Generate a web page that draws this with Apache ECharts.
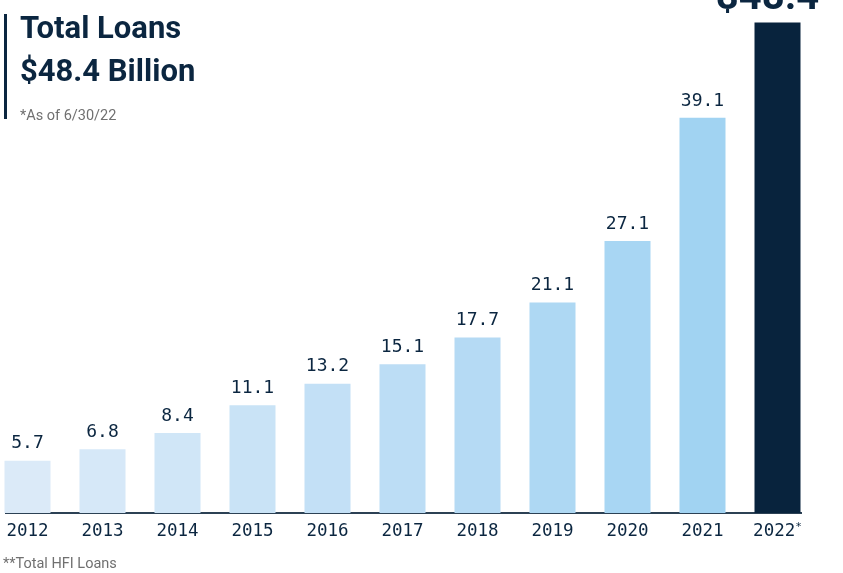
<!DOCTYPE html>
<html><head><meta charset="utf-8">
<script src="https://cdn.jsdelivr.net/npm/echarts@6/dist/echarts.min.js"></script>
<style>html,body{margin:0;padding:0;background:#fff;overflow:hidden}#c{position:absolute;left:-10px;top:0;width:853px;height:573px}</style>
</head><body><div id="c"></div>
<script>
const years = ['2012','2013','2014','2015','2016','2017','2018','2019','2020','2021','2022'];
const loans = [5.7, 6.8, 8.4, 11.1, 13.2, 15.1, 17.7, 21.1, 27.1, 39.1, 48.4];
const barColors = ['#dbeaf8','#d6e8f8','#d0e6f7','#c9e3f6','#c3e0f6','#bcddf5','#b5daf4','#aed8f3','#a8d6f3','#a1d3f2','#08233d'];
const navy = '#0b2640';
const mono = '"DejaVu Sans Mono", monospace';
const dx = 10; // the chart div is shifted 10px left

const chart = echarts.init(document.getElementById('c'));
chart.setOption({
  animation: false,
  grid: { left: 0, right: 28, top: 6, bottom: 60, containLabel: false },
  xAxis: {
    type: 'category', data: years,
    axisLine: { show: false }, axisTick: { show: false },
    axisLabel: {
      interval: 0, margin: 9, fontFamily: mono, fontSize: 17.5, color: navy,
      formatter: v => v === '2022' ? '{a|2022}{s|*}' : v,
      rich: { a: { fontFamily: mono, fontSize: 17.5, color: navy }, s: { fontFamily: mono, fontSize: 11, color: navy, verticalAlign: 'top', padding: [0,0,8,0] } }
    }
  },
  yAxis: { type: 'value', min: 0.6, max: 50, show: false, splitLine: { show: false } },
  series: [{
    type: 'bar', barWidth: 46,
    data: loans.map((v, i) => {
      const d = { value: v, itemStyle: { color: barColors[i] } };
      if (i === loans.length - 1) {
        d.label = { show: true, position: 'top', distance: 3, offset: [-10, 0], formatter: '${c}', fontFamily: 'Roboto, sans-serif', fontWeight: 'bold', fontSize: 40, color: navy };
      }
      return d;
    }),
    label: { show: true, position: 'top', distance: 8, fontFamily: mono, fontSize: 18, color: navy },
  }],
  graphic: [
    { type: 'rect', shape: { x: 4 + dx, y: 14, width: 3, height: 105 }, style: { fill: navy } },
    { type: 'text', left: 20 + dx, top: 15, style: { text: 'Total Loans', font: 'bold 31px Roboto, sans-serif', fill: navy } },
    { type: 'text', left: 20 + dx, top: 58, style: { text: '$48.4 Billion', font: 'bold 31px Roboto, sans-serif', fill: navy } },
    { type: 'text', left: 20 + dx, top: 109, style: { text: '*As of 6/30/22', font: '14.5px Roboto, sans-serif', fill: '#707070' } },
    { type: 'text', left: 3 + dx, top: 557, style: { text: '**Total HFI Loans', font: '14.5px Roboto, sans-serif', fill: '#707070' } },
    { type: 'rect', shape: { x: 5 + dx, y: 512, width: 797, height: 2 }, style: { fill: '#2c4154' } }
  ]
});
</script></body></html>
